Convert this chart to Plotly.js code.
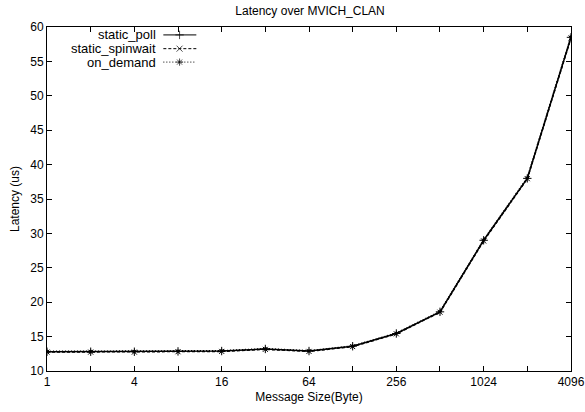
<!DOCTYPE html>
<html>
<head>
<meta charset="utf-8">
<script src="https://cdn.plot.ly/plotly-3.0.1.min.js"></script>
<style>html,body{margin:0;padding:0;background:#fff;}#chart{width:585px;height:412px;}</style>
</head>
<body>
<div id="chart"></div>
<script>
// Data
const messageSizes = [1, 2, 4, 8, 16, 32, 64, 128, 256, 512, 1024, 2048, 4096];
const staticPoll     = [12.8, 12.8, 12.8, 12.85, 12.9, 13.2, 12.9, 13.6, 15.45, 18.6, 29.0, 38.0, 58.5];
const staticSpinwait = [12.75, 12.75, 12.75, 12.8, 12.85, 13.15, 12.85, 13.55, 15.4, 18.55, 28.9, 37.95, 58.4];
const onDemand       = [12.85, 12.85, 12.85, 12.9, 12.95, 13.25, 12.95, 13.65, 15.5, 18.65, 29.05, 38.1, 58.6];
const seriesNames = ["static_poll", "static_spinwait", "on_demand"];
const tickVals = [1, 2, 4, 8, 16, 32, 64, 128, 256, 512, 1024, 2048, 4096];
const tickText = ["1", "", "4", "", "16", "", "64", "", "256", "", "1024", "", "4096"];

const seriesValues = [staticPoll, staticSpinwait, onDemand];
const dashes = ["solid", "3px,2px", "1px,2px"];
const symbols = ["cross-thin-open", "x-thin-open", "asterisk-open"];
const markerSizes = [6, 5, 3];
const font = {family: "Liberation Sans, Arial, Helvetica, sans-serif", size: 12, color: "#000"};
const keyFont = {family: "Liberation Sans, Arial, Helvetica, sans-serif", size: 13, color: "#000"};

const traces = [];
[2, 1, 0].forEach(i => {
  traces.push({
    x: messageSizes, y: seriesValues[i], name: seriesNames[i], type: "scatter", mode: "lines+markers",
    line: {color: "#000", width: 1.5, dash: dashes[i]},
    marker: {symbol: symbols[i], size: markerSizes[i], color: "#000", line: {color: "#000", width: 1}},
    showlegend: false
  });
});

// gnuplot-style key: text right-aligned, sample to the right
const keyRowY = [0.977, 0.937, 0.898];
const annotations = [];
seriesNames.forEach((n, i) => {
  traces.push({
    x: [0.222, 0.253, 0.285], y: [keyRowY[i], keyRowY[i], keyRowY[i]],
    xaxis: "x2", yaxis: "y2", type: "scatter", mode: "lines+markers", showlegend: false,
    hoverinfo: "skip",
    line: {color: "#000", width: 1, dash: dashes[i]},
    marker: {symbol: symbols[i], size: [0, 6, 0], color: "#000", line: {color: "#000", width: 1}}
  });
  annotations.push({
    xref: "paper", yref: "paper", x: 0.212, y: keyRowY[i], xanchor: "right", yanchor: "middle",
    text: n, showarrow: false, font: keyFont
  });
});

const layout = {
  width: 585, height: 412,
  margin: {l: 47, r: 14, t: 27, b: 41},
  paper_bgcolor: "#fff", plot_bgcolor: "#fff",
  font: font,
  title: {text: "Latency over MVICH_CLAN", font: font, x: 0.53, xanchor: "center", y: 0.975, yanchor: "middle"},
  xaxis: {
    type: "log", range: [-0.0002, Math.log10(4096) + 0.0002],
    tickmode: "array", tickvals: tickVals, ticktext: tickText,
    ticks: "inside", ticklen: 5, tickwidth: 1, tickcolor: "#000",
    ticklabeloverflow: "allow",
    showgrid: false, zeroline: false, showline: true, linecolor: "#000", linewidth: 1, mirror: "ticks",
    tickfont: font,
    title: {text: "Message Size(Byte)", font: font, standoff: 4}
  },
  yaxis: {
    range: [10, 60], tickmode: "linear", tick0: 10, dtick: 5,
    ticks: "inside", ticklen: 5, tickwidth: 1, tickcolor: "#000",
    showgrid: false, zeroline: false, showline: true, linecolor: "#000", linewidth: 1, mirror: "ticks",
    tickfont: font,
    title: {text: "Latency (us)", font: font, standoff: 8}
  },
  xaxis2: {overlaying: "x", range: [0, 1], visible: false, fixedrange: true},
  yaxis2: {overlaying: "y", range: [0, 1], visible: false, fixedrange: true},
  annotations: annotations,
  showlegend: false
};

Plotly.newPlot("chart", traces, layout, {displayModeBar: false, staticPlot: true});
</script>
</body>
</html>
